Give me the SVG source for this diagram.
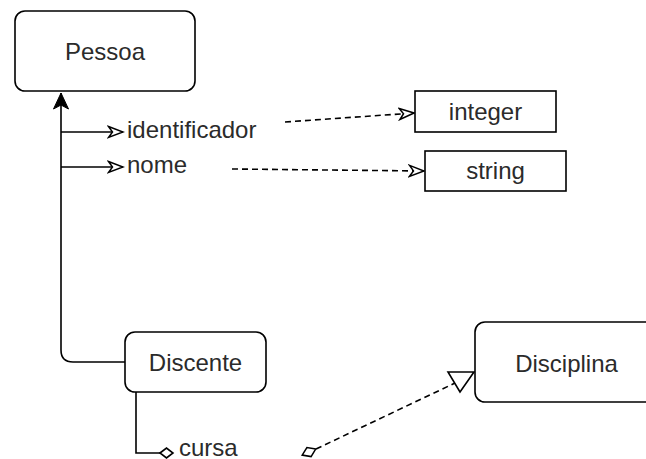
<svg xmlns="http://www.w3.org/2000/svg" width="646" height="459" viewBox="0 0 646 459">
  <style>
    .box { fill: #ffffff; stroke: #000000; stroke-width: 1.6; }
    .lbl { font-family: "Liberation Sans", Arial, sans-serif; font-size: 24px; fill: #2b2b2b; }
    .mid { text-anchor: middle; }
    .edge { fill: none; stroke: #000000; stroke-width: 1.6; }
    .dash { stroke-dasharray: 6 4; }
  </style>
  <defs>
    <!-- hollow notched arrowhead -->
    <marker id="openArrow" viewBox="0 0 18 14" refX="16" refY="7" markerWidth="18" markerHeight="14" orient="auto" markerUnits="userSpaceOnUse">
      <path d="M1.5,1.5 L16,7 L1.5,12.5 L5.5,7 Z" fill="#ffffff" stroke="#000000" stroke-width="1.5" stroke-linejoin="miter"/>
    </marker>
    <!-- filled notched arrowhead -->
    <marker id="solidArrow" viewBox="0 0 18 18" refX="17" refY="9" markerWidth="18" markerHeight="18" orient="auto" markerUnits="userSpaceOnUse">
      <path d="M1,1.5 L17,9 L1,16.5 L5,9 Z" fill="#000000" stroke="#000000" stroke-width="1"/>
    </marker>
  </defs>

  <!-- connectors -->
  <g id="connectors">
    <!-- Discente generalises to Pessoa -->
    <path class="edge" d="M125,362 L73,362 Q61,362 61,350 L61,93" marker-end="url(#solidArrow)"/>
    <!-- attribute branches -->
    <path class="edge" d="M61,132 L123,132" marker-end="url(#openArrow)"/>
    <path class="edge" d="M61,167 L123,167" marker-end="url(#openArrow)"/>
    <!-- attribute types -->
    <path class="edge dash" d="M285,122 L414,113" marker-end="url(#openArrow)"/>
    <path class="edge dash" d="M232,169 L424,171" marker-end="url(#openArrow)"/>
    <!-- Discente to cursa -->
    <path class="edge" d="M136,392 L136,453 L160,453"/>
    <polygon class="edge" points="160,453 166.5,448 173,453 166.5,458" fill="#ffffff"/>
    <!-- cursa to Disciplina -->
    <path class="edge dash" d="M316,449 L455,383"/>
    <polygon points="315.8,448.9 306.9,447.5 302.2,455.1 311.1,456.6" fill="#ffffff" stroke="#000000" stroke-width="1.5"/>
    <polygon points="448,372 474,372 460,392" fill="#ffffff" stroke="#000000" stroke-width="1.6"/>
  </g>

  <!-- nodes -->
  <g id="pessoa">
    <rect class="box" x="15" y="11" width="180" height="80" rx="10"/>
    <text class="lbl mid" x="105" y="60">Pessoa</text>
  </g>
  <g id="identificador">
    <text class="lbl" x="127" y="138">identificador</text>
  </g>
  <g id="nome">
    <text class="lbl" x="127" y="173">nome</text>
  </g>
  <g id="integer">
    <rect class="box" x="415" y="91" width="141" height="41"/>
    <text class="lbl mid" x="485.5" y="120">integer</text>
  </g>
  <g id="string">
    <rect class="box" x="425" y="151" width="141" height="40"/>
    <text class="lbl mid" x="495.5" y="179">string</text>
  </g>
  <g id="discente">
    <rect class="box" x="125" y="332" width="141" height="60" rx="10"/>
    <text class="lbl mid" x="195.5" y="371">Discente</text>
  </g>
  <g id="disciplina">
    <rect class="box" x="475" y="322" width="183" height="80" rx="10"/>
    <text class="lbl mid" x="566.5" y="372">Disciplina</text>
  </g>
  <g id="cursa">
    <text class="lbl" x="179" y="456">cursa</text>
  </g>
</svg>
